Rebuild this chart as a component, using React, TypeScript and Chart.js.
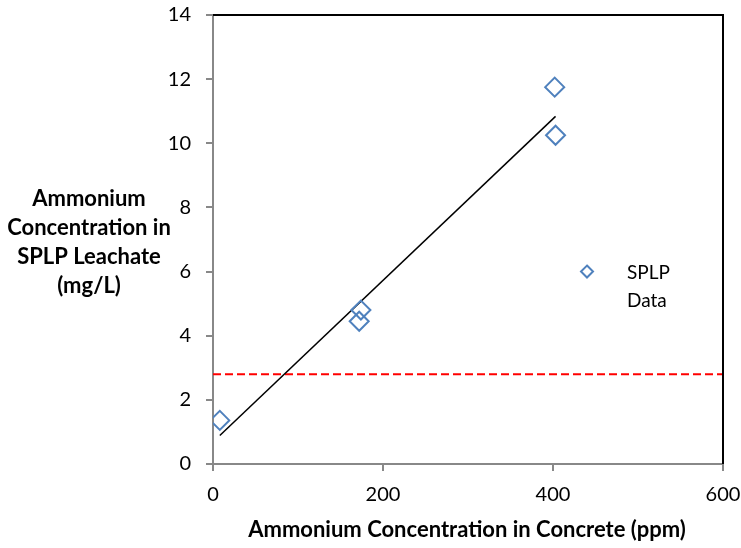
import React, { useEffect, useRef } from "react";
import { Chart, registerables } from "chart.js";

Chart.register(...registerables);

// SPLP leachate measurements
const concreteNH4 = [8, 172, 174, 402, 403];
const leachateNH4 = [1.36, 4.45, 4.8, 11.75, 10.25];

// Linear trend end points
const trendX = [8, 403];
const trendY = [0.89, 10.84];

// Reference level (dashed)
const limitX = [0, 600];
const limitY = [2.8, 2.8];

const yTitleLines = ["Ammonium", "Concentration in", "SPLP Leachate", "(mg/L)"];
const xTitle = "Ammonium Concentration in Concrete (ppm)";
const legendLines = ["SPLP", "Data"];

const FONT = "Lato, 'Open Sans', sans-serif";
const MARKER = "#4F81BD";

const decorPlugin = {
  id: "decor",
  afterDraw(chart: any) {
    const { ctx, chartArea } = chart;
    const { left, right, top, bottom } = chartArea;
    ctx.save();
    // top and right frame
    ctx.strokeStyle = "#000";
    ctx.lineWidth = 2;
    ctx.beginPath();
    ctx.moveTo(left, top);
    ctx.lineTo(right, top);
    ctx.lineTo(right, bottom);
    ctx.stroke();

    // y title (horizontal, multi-line)
    ctx.fillStyle = "#000";
    ctx.font = `bold 22px ${FONT}`;
    ctx.textAlign = "center";
    ctx.textBaseline = "middle";
    const yStart = 199;
    yTitleLines.forEach((t, i) => ctx.fillText(t, 89, yStart + i * 29));

    // x title
    ctx.fillText(xTitle, 467, 530);

    // legend
    const lx = chart.scales.x.getPixelForValue(440);
    const ly = chart.scales.y.getPixelForValue(6);
    ctx.strokeStyle = MARKER;
    ctx.lineWidth = 2;
    ctx.beginPath();
    const r = 6;
    ctx.moveTo(lx, ly - r);
    ctx.lineTo(lx + r, ly);
    ctx.lineTo(lx, ly + r);
    ctx.lineTo(lx - r, ly);
    ctx.closePath();
    ctx.stroke();
    ctx.fillStyle = "#000";
    ctx.font = `19px ${FONT}`;
    ctx.textAlign = "left";
    legendLines.forEach((t, i) => ctx.fillText(t, 627, ly + 1 + i * 28));
    ctx.restore();
  },
};

export default function App() {
  const ref = useRef<HTMLCanvasElement | null>(null);

  useEffect(() => {
    if (!ref.current) return;
    const chart = new Chart(ref.current, {
      type: "scatter",
      data: {
        datasets: [
          {
            label: "SPLP Data",
            data: concreteNH4.map((x, i) => ({ x, y: leachateNH4[i] })),
            pointStyle: "rectRot",
            pointRadius: 9.5,
            pointBorderWidth: 2,
            pointBorderColor: MARKER,
            pointBackgroundColor: "rgba(255,255,255,0)",
            showLine: false,
            order: 0,
          },
          {
            label: "Trend",
            data: trendX.map((x, i) => ({ x, y: trendY[i] })),
            showLine: true,
            borderColor: "#000",
            borderWidth: 1.5,
            pointRadius: 0,
            order: 1,
          },
          {
            label: "Limit",
            data: limitX.map((x, i) => ({ x, y: limitY[i] })),
            showLine: true,
            borderColor: "#FF0000",
            borderWidth: 2,
            borderDash: [8, 4],
            pointRadius: 0,
            order: 2,
          },
        ],
      },
      options: {
        animation: false,
        responsive: false,
        layout: { padding: { left: 0, top: 15, right: 18, bottom: 0 } },
        plugins: {
          legend: { display: false },
          tooltip: { enabled: false },
        },
        scales: {
          x: {
            type: "linear",
            min: 0,
            max: 600,
            ticks: {
              stepSize: 200,
              color: "#000",
              font: { family: FONT, size: 20 },
              padding: 12,
            },
            grid: {
              drawOnChartArea: false,
              drawTicks: true,
              tickLength: 7,
              color: "#888",
              lineWidth: 2,
            },
            border: { color: "#888", width: 2 },
            afterFit(scale: any) {
              scale.height = 84;
              scale.paddingLeft = 0;
              scale.paddingRight = 0;
            },
          },
          y: {
            type: "linear",
            min: 0,
            max: 14,
            ticks: {
              stepSize: 2,
              color: "#000",
              font: { family: FONT, size: 20 },
              padding: 15,
            },
            grid: {
              drawOnChartArea: false,
              drawTicks: true,
              tickLength: 7,
              color: "#888",
              lineWidth: 2,
            },
            border: { color: "#888", width: 2 },
            afterFit(scale: any) {
              scale.width = 213;
              scale.paddingTop = 0;
              scale.paddingBottom = 0;
            },
          },
        },
      },
      plugins: [decorPlugin],
    });
    return () => chart.destroy();
  }, []);

  return (
    <div style={{ position: "fixed", left: 0, top: 0, width: 741, height: 548, background: "#fff" }}>
      <canvas ref={ref} width={741} height={548} />
    </div>
  );
}
